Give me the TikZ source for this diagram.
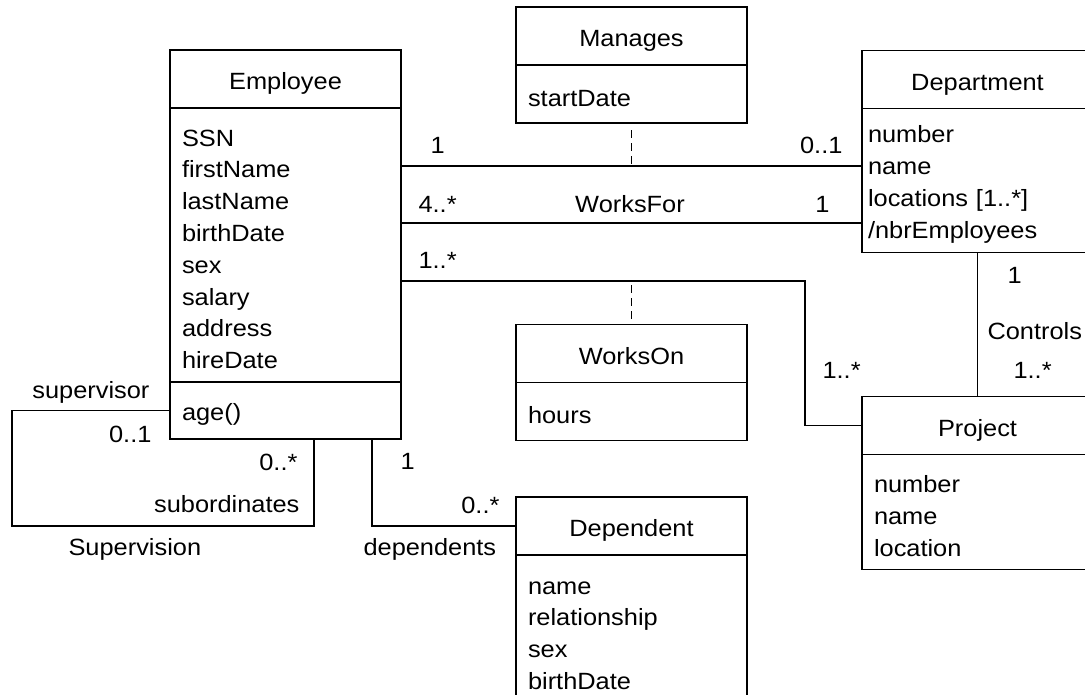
\documentclass[tikz,border=0pt]{standalone}
\usepackage{fontspec}
\setmainfont{Liberation Sans}[FakeStretch=1.08]
\usetikzlibrary{calc, positioning}

\begin{document}
\begin{tikzpicture}[x=1pt, y=-1pt, line width=1.1pt,
  cls/.style={draw, outer sep=0pt, inner xsep=12pt, inner ysep=0pt, text width=207pt, font=\fontsize{23.5}{31.8}\selectfont},
  ttl/.style={cls, align=center, text height=21pt, text depth=0pt, minimum height=58pt},
  att/.style={cls, align=left, text height=25pt, below=0pt of #1},
  lbl/.style={font=\fontsize{23.5}{31.8}\selectfont, inner sep=0pt},
  dsh/.style={dash pattern=on 8pt off 5pt}]
  \useasboundingbox (0,0) rectangle (1085,694);
  \clip (0,0) rectangle (1085,694);

  \node[ttl] (empT) at (285.5,79) {Employee};
  \node[att=empT, minimum height=274pt] (empA) {SSN\\firstName\\lastName\\birthDate\\sex\\salary\\address\\hireDate};
  \node[att=empA, minimum height=57pt] (empO) {age()};

  \node[ttl] (manT) at (631.5,36) {Manages};
  \node[att=manT, minimum height=58pt] (manA) {startDate};

  \node[ttl, inner xsep=6pt, text width=219pt] (dptT) at (977.5,79.5) {Department};
  \node[att=dptT, inner xsep=6pt, text width=219pt, minimum height=144pt] (dptA) {number\\name\\locations [1..*]\\/nbrEmployees};

  \node[ttl] (wonT) at (631.5,353.5) {WorksOn};
  \node[att=wonT, minimum height=58pt] (wonA) {hours};

  \node[ttl] (prjT) at (977.5,425.5) {Project};
  \node[att=prjT, minimum height=115pt] (prjA) {number\\name\\location};

  \node[ttl] (dpnT) at (631.5,526) {Dependent};
  \node[att=dpnT, text height=17pt, minimum height=157pt] (dpnA) {name\\relationship\\sex\\birthDate};

  \path (empA.north east) ++(0,58) coordinate (manL) ++(0,57) coordinate (wfrL) ++(0,58) coordinate (wonL);
  \coordinate (supC) at (12,526);

  \draw (manL) -- (manL -| dptA.west);
  \draw (wfrL) -- (wfrL -| dptA.west);
  \draw (wonL) -- ++(404,0) |- (prjT.west);
  \draw (dptA.south) -- (prjT.north);
  \draw (empO.west) -| (supC) -| ($(empO.south west)+(144,0)$);
  \draw ($(empO.south west)+(202,0)$) |- (dpnT.west);
  \draw[dsh, shorten <=7pt] (manA.south) -- (manA.south |- manL);
  \draw[dsh, shorten <=4pt] (wonT.north |- wonL) -- (wonT.north);

  \node[lbl, anchor=base west] (manE) at (430,153) {1};
  \node[lbl, anchor=base east] (manD) at (843,153) {0..1};
  \node[lbl, anchor=base west] (wfrE) at (418,212) {4..*};
  \node[lbl, anchor=base] (wfrN) at (630,212) {WorksFor};
  \node[lbl, anchor=base east] (wfrD) at (830,212) {1};
  \node[lbl, anchor=base west] (wonE) at (418,268) {1..*};
  \node[lbl, anchor=base west] (wonP) at (822,378) {1..*};
  \node[lbl, anchor=base west] (ctlD) at (1007,283) {1};
  \node[lbl, anchor=base west] (ctlN) at (987,339) {Controls};
  \node[lbl, anchor=base west] (ctlP) at (1013,378) {1..*};
  \node[lbl, anchor=base east] (supR) at (150,398) {supervisor};
  \node[lbl, anchor=base east] (supM) at (152,442) {0..1};
  \node[lbl, anchor=base east] (subM) at (298,470) {0..*};
  \node[lbl, anchor=base east] (subR) at (300,512) {subordinates};
  \node[lbl, anchor=base west] (supN) at (68,555) {Supervision};
  \node[lbl, anchor=base west] (dpnE) at (400,469) {1};
  \node[lbl, anchor=base east] (dpnM) at (500,513) {0..*};
  \node[lbl, anchor=base west] (dpnR) at (363,555) {dependents};
\end{tikzpicture}
\end{document}
